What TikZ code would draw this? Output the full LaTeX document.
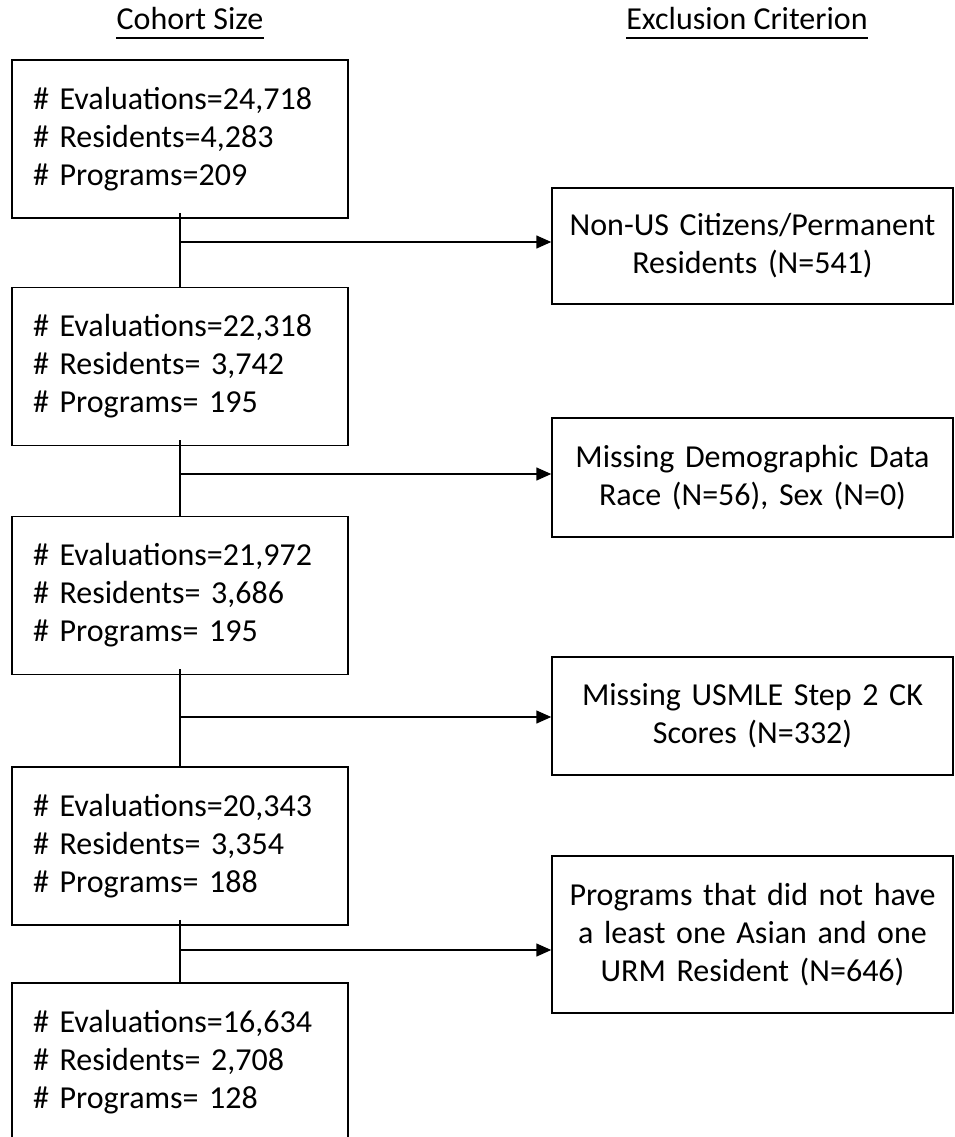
\documentclass[tikz,border=0pt]{standalone}
\usepackage{fontspec}
\setmainfont{Carlito}
\usetikzlibrary{arrows.meta, positioning, calc}

\tikzset{
    boxfont/.style={font=\fontsize{32}{38}\selectfont},
    cohortbox/.style={draw, line width=1.5pt, boxfont, text width=294pt, inner xsep=21pt, inner ysep=0pt, minimum height=158pt, align=left},
    exclbox/.style={draw, line width=1.5pt, boxfont, text width=381pt, inner xsep=10pt, inner ysep=0pt, align=center},
    flowline/.style={line width=1.5pt},
    flowarrow/.style={line width=1.5pt, -{Triangle[length=15pt,width=13pt]}}
}

\begin{document}
\begin{tikzpicture}[x=1pt, y=-1pt]
    \useasboundingbox (0,0) rectangle (955,1137);

    % Column headings
    \node[boxfont, inner sep=0pt, anchor=base] (hcohort) at (190,30) {Cohort Size};
    \node[boxfont, inner sep=0pt, anchor=base] (hexcl) at (747,30) {Exclusion Criterion};
    \foreach \h in {hcohort, hexcl} {
        \draw[line width=2.2pt] ([yshift=-8pt]\h.base west) -- ([yshift=-8pt]\h.base east);
    }

    % Cohort size boxes
    \foreach \i/\y/\ev/\res/\prog in {1/139/{24,718}/{=4,283}/{=209},
                                     2/366.5/{22,318}/{= 3,742}/{= 195},
                                     3/595.5/{21,972}/{= 3,686}/{= 195},
                                     4/846/{20,343}/{= 3,354}/{= 188},
                                     5/1062/{16,634}/{= 2,708}/{= 128}} {
        \node[cohortbox] (c\i) at (180,\y) {\# Evaluations=\ev\\\# Residents\res\\\# Programs\prog};
    }

    % Exclusion boxes
    \node[exclbox, minimum height=116pt] (x1) at (752.5,246) {Non-US Citizens/Permanent\\Residents (N=541)};
    \node[exclbox, minimum height=119pt] (x2) at (752.5,477.5) {Missing Demographic Data\\Race (N=56), Sex (N=0)};
    \node[exclbox, minimum height=118pt] (x3) at (752.5,716) {Missing USMLE Step 2 CK\\Scores (N=332)};
    \node[exclbox, minimum height=157pt] (x4) at (752.5,934.5) {Programs that did not have\\a least one Asian and one\\URM Resident (N=646)};

    % Connectors
    \foreach \i/\j/\y in {1/2/242, 2/3/474, 3/4/717, 4/5/950} {
        \draw[flowline] ([yshift=6pt]c\i.south) -- (c\j.north);
        \coordinate (split\i) at (180,\y);
        \draw[flowarrow] (split\i) -- (split\i -| x\i.west);
    }
\end{tikzpicture}
\end{document}
